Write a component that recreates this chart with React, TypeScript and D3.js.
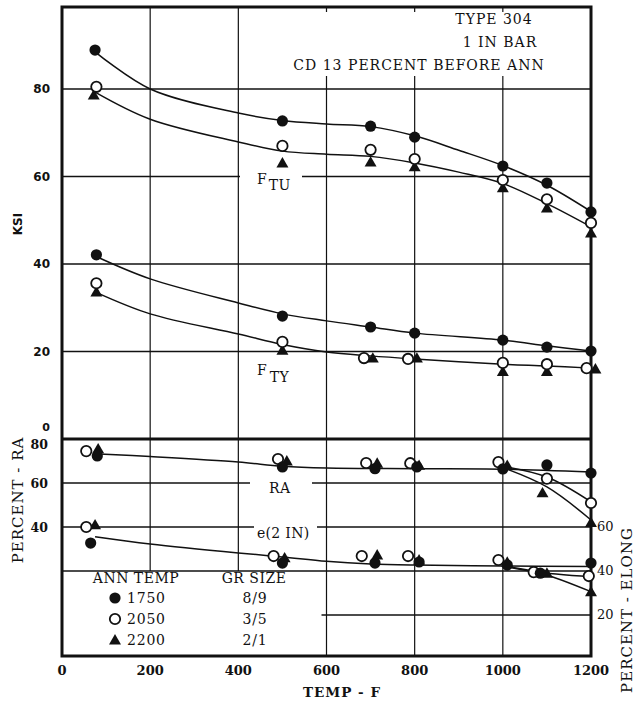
import React from 'react';
import * as d3 from 'd3';

// ---------- data ----------
const xTicks = [0, 200, 400, 600, 800, 1000, 1200];
const ksiTicks = [20, 40, 60, 80];
const raTicks = [40, 60, 80];
const elTicks = [20, 40, 60];

// F_TU points
const ftuT1750 = [75, 500, 700, 800, 1000, 1100, 1200];
const ftu1750 = [88.9, 72.7, 71.5, 69.0, 62.4, 58.5, 51.9];
const ftuT2050 = [78, 500, 700, 800, 1000, 1100, 1200];
const ftu2050 = [80.5, 67.0, 66.1, 64.0, 59.2, 54.8, 49.4];
const ftuT2200 = [72, 500, 700, 800, 1000, 1100, 1200];
const ftu2200 = [78.6, 63.1, 63.3, 62.2, 57.4, 52.8, 47.1];

// F_TY points
const ftyT1750 = [78, 500, 700, 800, 1000, 1100, 1200];
const fty1750 = [42.1, 28.1, 25.6, 24.2, 22.6, 21.0, 20.1];
const ftyT2050 = [78, 500, 685, 785, 1000, 1100, 1190];
const fty2050 = [35.6, 22.2, 18.5, 18.3, 17.4, 17.1, 16.2];
const ftyT2200 = [78, 500, 705, 805, 1000, 1100, 1210];
const fty2200 = [33.6, 20.3, 18.5, 18.5, 15.4, 15.4, 16.0];

// RA points
const raT1750 = [80, 500, 710, 805, 1000, 1100, 1200];
const ra1750 = [72.3, 67.3, 66.5, 67.3, 66.4, 68.2, 64.5];
const raT2050 = [55, 490, 690, 790, 990, 1100, 1200];
const ra2050 = [74.5, 70.9, 69.1, 69.0, 69.5, 62.0, 50.9];
const raT2200 = [82, 510, 715, 810, 1010, 1090, 1200];
const ra2200 = [75.5, 70.0, 69.0, 68.0, 68.0, 55.5, 42.0];

// Elongation points
const elT1750 = [65, 500, 710, 810, 1010, 1085, 1200];
const el1750 = [52.7, 43.6, 43.6, 44.1, 42.7, 39.0, 43.6];
const elT2050 = [55, 480, 680, 785, 990, 1070, 1195];
const el2050 = [60.0, 46.8, 46.8, 46.8, 45.0, 39.5, 37.7];
const elT2200 = [75, 505, 715, 810, 1010, 1100, 1200];
const el2200 = [61.0, 46.0, 47.3, 45.0, 44.0, 39.0, 30.5];

// fitted curves
const ftuCurveAT = [75, 200, 400, 500, 600, 700, 800, 900, 1000, 1100, 1200];
const ftuCurveAV = [88.5, 80.0, 74.5, 72.8, 72.0, 71.4, 69.3, 66.0, 62.5, 58.0, 52.0];
const ftuCurveBT = [75, 200, 400, 500, 600, 700, 800, 900, 1000, 1100, 1200];
const ftuCurveBV = [79.3, 73.1, 67.9, 65.8, 65.1, 64.6, 63.1, 61.0, 58.4, 53.8, 48.5];
const ftyCurveAT = [80, 200, 400, 500, 600, 700, 800, 1000, 1100, 1200];
const ftyCurveAV = [41.6, 36.6, 31.1, 28.6, 27.0, 25.6, 24.2, 22.6, 21.3, 20.1];
const ftyCurveBT = [80, 200, 400, 500, 600, 700, 800, 1000, 1100, 1200];
const ftyCurveBV = [33.4, 28.6, 24.0, 21.6, 19.9, 19.0, 18.3, 17.1, 16.7, 16.2];
const raCurveT = [85, 200, 400, 500, 600, 800, 1000, 1200];
const raCurveV = [73.2, 72.0, 69.5, 67.6, 66.8, 66.5, 66.3, 65.0];
const raBranch2050T = [1000, 1100, 1200];
const raBranch2050V = [67.6, 62.7, 51.4];
const raBranch2200T = [1000, 1100, 1200];
const raBranch2200V = [67.0, 58.2, 43.2];
const elCurveT = [75, 200, 400, 500, 600, 700, 800, 1000, 1200];
const elCurveV = [55.6, 52.3, 48.2, 46.4, 44.4, 43.2, 42.7, 42.3, 42.0];
const elBranch2050T = [1000, 1070, 1200];
const elBranch2050V = [42.3, 39.7, 37.4];
const elBranch2200T = [1000, 1085, 1200];
const elBranch2200V = [42.3, 39.1, 30.6];

const legendTemps = ['1750', '2050', '2200'];
const legendSizes = ['8/9', '3/5', '2/1'];

// ---------- layout ----------
const W = 639;
const H = 702;
const LEFT = 62;
const RIGHT = 591;
const TOP = 7;
const BOTTOM = 656;
const INK = '#111';
const SERIF = "'DejaVu Serif', 'Liberation Serif', serif";
const SANS = "'DejaVu Sans', sans-serif";

const x = d3.scaleLinear().domain([0, 1200]).range([LEFT, RIGHT]);
const yK = d3.scaleLinear().domain([0, 80]).range([439, 89]);
const yR = d3.scaleLinear().domain([40, 80]).range([527, 439]);
const yE = d3.scaleLinear().domain([20, 60]).range([615, 527]);

type Kind = 'filled' | 'open' | 'tri';

function Marker({ kind, cx, cy }: { kind: Kind; cx: number; cy: number }) {
  if (kind === 'filled') return <circle cx={cx} cy={cy} r={5.6} fill={INK} />;
  if (kind === 'open')
    return <circle cx={cx} cy={cy} r={5.2} fill="#fff" stroke={INK} strokeWidth={1.8} />;
  const d = d3.symbol(d3.symbolTriangle, 62)() as string;
  return <path d={d} transform={`translate(${cx},${cy + 1})`} fill={INK} />;
}

function curvePath(ts: number[], vs: number[], y: d3.ScaleLinear<number, number>) {
  const pts = ts.map((t, i) => [t, vs[i]] as [number, number]);
  return (
    d3
      .line<[number, number]>()
      .x((d) => x(d[0]))
      .y((d) => y(d[1]))
      .curve(d3.curveCatmullRom.alpha(0.5))(pts) || ''
  );
}

const series: { ts: number[]; vs: number[]; kind: Kind; y: d3.ScaleLinear<number, number> }[] = [
  { ts: ftuT2200, vs: ftu2200, kind: 'tri', y: yK },
  { ts: ftyT2200, vs: fty2200, kind: 'tri', y: yK },
  { ts: raT2200, vs: ra2200, kind: 'tri', y: yR },
  { ts: elT2200, vs: el2200, kind: 'tri', y: yE },
  { ts: ftuT1750, vs: ftu1750, kind: 'filled', y: yK },
  { ts: ftyT1750, vs: fty1750, kind: 'filled', y: yK },
  { ts: raT2050, vs: ra2050, kind: 'open', y: yR },
  { ts: elT2050, vs: el2050, kind: 'open', y: yE },
  { ts: raT1750, vs: ra1750, kind: 'filled', y: yR },
  { ts: elT1750, vs: el1750, kind: 'filled', y: yE },
  { ts: ftuT2050, vs: ftu2050, kind: 'open', y: yK },
  { ts: ftyT2050, vs: fty2050, kind: 'open', y: yK },
];

const curves: { ts: number[]; vs: number[]; y: d3.ScaleLinear<number, number> }[] = [
  { ts: ftuCurveAT, vs: ftuCurveAV, y: yK },
  { ts: ftuCurveBT, vs: ftuCurveBV, y: yK },
  { ts: ftyCurveAT, vs: ftyCurveAV, y: yK },
  { ts: ftyCurveBT, vs: ftyCurveBV, y: yK },
  { ts: raCurveT, vs: raCurveV, y: yR },
  { ts: raBranch2050T, vs: raBranch2050V, y: yR },
  { ts: raBranch2200T, vs: raBranch2200V, y: yR },
  { ts: elCurveT, vs: elCurveV, y: yE },
  { ts: elBranch2050T, vs: elBranch2050V, y: yE },
  { ts: elBranch2200T, vs: elBranch2200V, y: yE },
];

export default function App() {
  const legendY = [598, 619, 640];
  const legendKinds: Kind[] = ['filled', 'open', 'tri'];
  const lineW = 1.5;
  return (
    <svg
      width={W}
      height={H}
      viewBox={`0 0 ${W} ${H}`}
      style={{ position: 'absolute', left: 0, top: 0, background: '#fff' }}
    >
      <rect x={0} y={0} width={W} height={H} fill="#fff" />

      {/* vertical grid */}
      {xTicks.slice(1, -1).map((t) => (
        <line
          key={'vg' + t}
          x1={x(t)}
          x2={x(t)}
          y1={TOP}
          y2={t <= 400 ? yE(40) : BOTTOM}
          stroke={INK}
          strokeWidth={1.2}
        />
      ))}

      {/* horizontal grid upper */}
      {ksiTicks.map((v) => (
        <line key={'hk' + v} x1={LEFT} x2={RIGHT} y1={yK(v)} y2={yK(v)} stroke={INK} strokeWidth={1.6} />
      ))}
      {/* lower grid */}
      {[60, 40].map((v) => (
        <line key={'hr' + v} x1={LEFT} x2={RIGHT} y1={yR(v)} y2={yR(v)} stroke={INK} strokeWidth={1.6} />
      ))}
      <line x1={LEFT} x2={RIGHT} y1={yE(40)} y2={yE(40)} stroke={INK} strokeWidth={1.6} />
      <line x1={x(600) - 5} x2={RIGHT} y1={yE(20)} y2={yE(20)} stroke={INK} strokeWidth={1.4} />

      {/* thick divider KSI 0 / RA 80 */}
      <line x1={LEFT} x2={RIGHT} y1={yK(0)} y2={yK(0)} stroke={INK} strokeWidth={3} />

      {/* gaps behind labels */}
      <rect x={283} y={12} width={274} height={64} fill="#fff" />
      <rect x={240} y={yK(60) - 3} width={62} height={6} fill="#fff" />
      <rect x={250} y={yR(60) - 3} width={62} height={6} fill="#fff" />
      <rect x={254} y={yR(40) - 3} width={63} height={6} fill="#fff" />

      {/* frame */}
      <rect
        x={LEFT}
        y={TOP}
        width={RIGHT - LEFT}
        height={BOTTOM - TOP}
        fill="none"
        stroke={INK}
        strokeWidth={3}
      />

      {/* curves */}
      {curves.map((c, i) => (
        <path key={'c' + i} d={curvePath(c.ts, c.vs, c.y)} fill="none" stroke={INK} strokeWidth={lineW} />
      ))}

      {/* markers */}
      {series.map((s, si) =>
        s.ts.map((t, i) => <Marker key={`m${si}-${i}`} kind={s.kind} cx={x(t)} cy={s.y(s.vs[i])} />)
      )}

      {/* title block */}
      <g fontFamily={SERIF} fontSize={14} fill={INK} letterSpacing={1} textAnchor="middle">
        <text x={494} y={24}>TYPE 304</text>
        <text x={500} y={47}>1 IN BAR</text>
        <text x={419} y={70}>CD 13 PERCENT BEFORE ANN</text>
      </g>

      {/* curve labels */}
      <g fontFamily={SERIF} fontSize={14} fill={INK}>
        <text x={257} y={184}>
          F<tspan dx={2} dy={6} letterSpacing={0.5}>TU</tspan>
        </text>
        <text x={257} y={375}>
          F<tspan dx={3} dy={7} letterSpacing={0.5}>TY</tspan>
        </text>
        <text x={269} y={493} letterSpacing={0.5}>RA</text>
        <text x={257} y={538} letterSpacing={0.3}>e(2 IN)</text>
      </g>

      {/* KSI axis */}
      <g fontFamily={SANS} fontWeight="bold" fontSize={12} fill={INK} textAnchor="end">
        {ksiTicks.map((v) => (
          <text key={'kt' + v} x={50} y={yK(v)} dy="0.35em">
            {v}
          </text>
        ))}
        <text x={50} y={427} dy="0.35em" fontSize={11}>0</text>
      </g>
      <text
        transform="translate(18,224) rotate(-90)"
        textAnchor="middle"
        dy="0.35em"
        fontFamily={SANS}
        fontWeight="bold"
        fontSize={12}
        fill={INK}
      >
        KSI
      </text>

      {/* RA axis */}
      <g fontFamily={SERIF} fontWeight="bold" fontSize={12.5} fill={INK} textAnchor="end">
        {raTicks.map((v) => (
          <text key={'rt' + v} x={48} y={yR(v) + (v === 80 ? 6 : 1)} dy="0.35em">
            {v}
          </text>
        ))}
      </g>
      <text
        transform="translate(18,500) rotate(-90)"
        textAnchor="middle"
        dy="0.35em"
        fontFamily={SERIF}
        fontSize={15}
        letterSpacing={1}
        fill={INK}
      >
        PERCENT - RA
      </text>

      {/* Elong axis */}
      <g fontFamily={SERIF} fontSize={13} fill={INK} textAnchor="start">
        {elTicks.map((v) => (
          <text key={'et' + v} x={597} y={yE(v) - 1} dy="0.35em">
            {v}
          </text>
        ))}
      </g>
      <text
        transform="translate(627,610) rotate(-90)"
        textAnchor="middle"
        dy="0.35em"
        fontFamily={SERIF}
        fontSize={15}
        letterSpacing={1}
        fill={INK}
      >
        PERCENT - ELONG
      </text>

      {/* x axis */}
      <g fontFamily={SERIF} fontSize={13} fontWeight="bold" fill={INK} textAnchor="middle">
        {xTicks.map((t) => (
          <text key={'xt' + t} x={x(t)} y={675}>
            {t}
          </text>
        ))}
        <text x={342} y={697} fontSize={13.5} letterSpacing={1}>TEMP - F</text>
      </g>

      {/* legend */}
      <g fontFamily={SERIF} fontSize={14} fill={INK}>
        <text x={136} y={583} textAnchor="middle" letterSpacing={0.5}>ANN TEMP</text>
        <text x={254} y={583} textAnchor="middle" letterSpacing={0.5}>GR SIZE</text>
        {legendTemps.map((t, i) => (
          <g key={'lg' + i}>
            <Marker kind={legendKinds[i]} cx={115} cy={legendY[i]} />
            <text x={127} y={legendY[i] + 5} letterSpacing={0.8}>{t}</text>
            <text x={255} y={legendY[i] + 5} textAnchor="middle" letterSpacing={0.8}>
              {legendSizes[i]}
            </text>
          </g>
        ))}
      </g>
    </svg>
  );
}
